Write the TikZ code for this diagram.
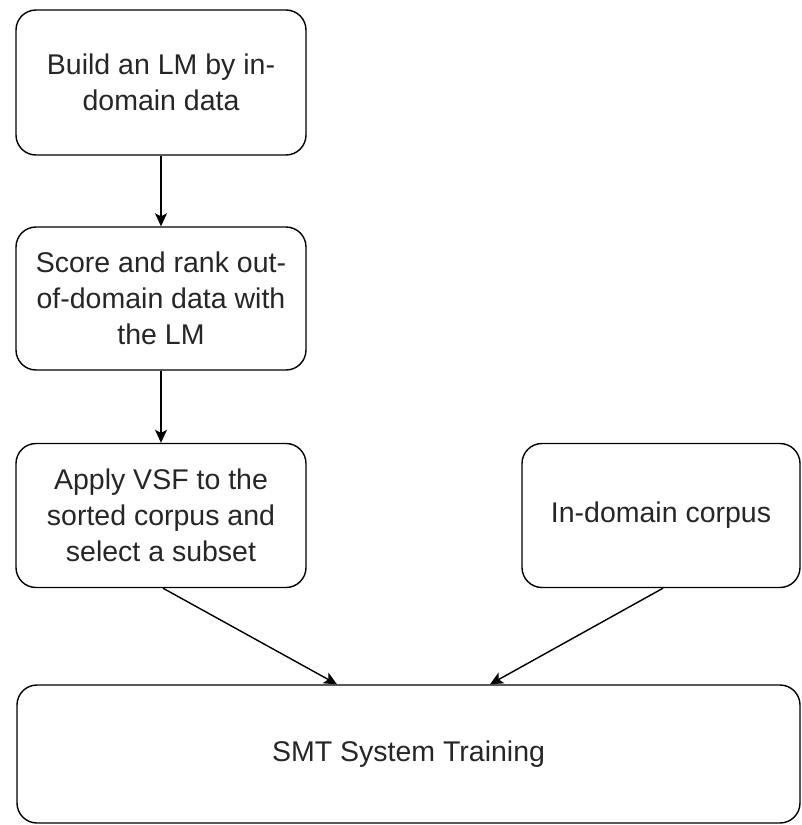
\documentclass[tikz,border=0pt]{standalone}
\usepackage{fontspec}
\setmainfont{Liberation Sans}
\usetikzlibrary{arrows.meta}
\begin{document}
\begin{tikzpicture}[x=1pt,y=1pt,
  stepbox/.style={draw=black, line width=1.4pt, rounded corners=20pt,
    align=center, inner sep=0pt, text=black!85,
    font=\fontsize{28.5}{36}\selectfont},
  conn/.style={draw=black, line width=1.4pt,
    -{Stealth[length=13pt,width=12pt,inset=3pt]}}]
\useasboundingbox (0,0) rectangle (801,-825);
\node[stepbox, minimum width=290pt, minimum height=145pt] (b1) at (161,-82.5)
  {Build an LM by in-\\domain data};
\node[stepbox, minimum width=290pt, minimum height=143pt] (b2) at (161,-298.5)
  {Score and rank out-\\of-domain data with\\the LM};
\node[stepbox, minimum width=290pt, minimum height=144pt] (b3) at (161,-515.5)
  {Apply VSF to the\\sorted corpus and\\select a subset};
\node[stepbox, minimum width=278pt, minimum height=144pt] (b4) at (661,-515.5)
  {In-domain corpus};
\node[stepbox, minimum width=783pt, minimum height=138pt] (b5) at (408.5,-754)
  {SMT System Training};
\draw[conn] (b1.south) -- (b2.north);
\draw[conn] (b2.south) -- (b3.north);
\draw[conn] ([xshift=2pt]b3.south) -- ([xshift=-71.5pt]b5.north);
\draw[conn] ([xshift=2pt]b4.south) -- ([xshift=81.5pt]b5.north);
\end{tikzpicture}
\end{document}
